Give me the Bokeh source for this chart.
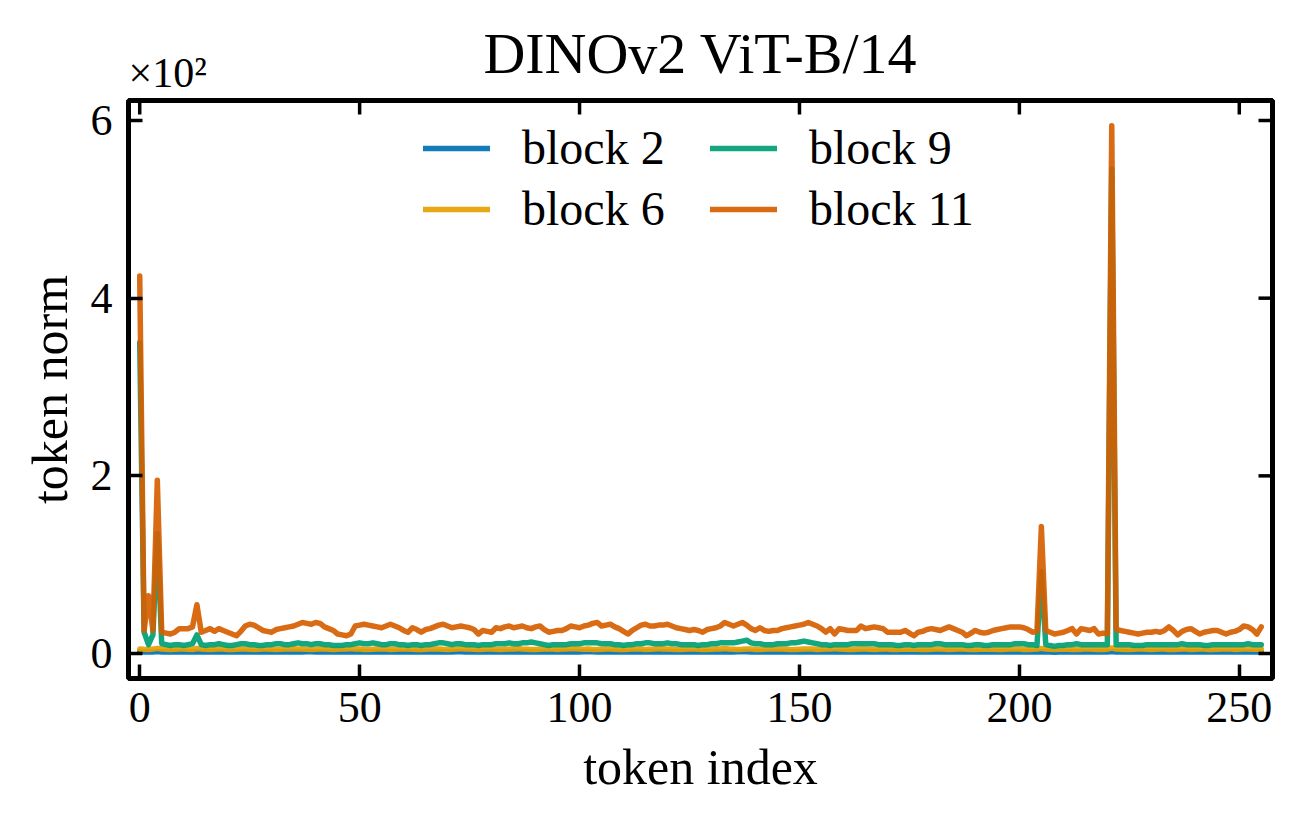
from bokeh.plotting import figure
from bokeh.models import Range1d, FixedTicker, Legend, LegendItem, Title
from bokeh.embed import file_html
from bokeh.resources import INLINE

# ---- data: per-token L2 norm at four depths of the network ----
tokens = list(range(256))

block2 = [
    1.9, 1.7, 1.8, 1.6, 2.2, 1.8, 1.7, 1.6, 1.8, 1.9, 1.7, 1.8, 1.7, 2.0, 1.8, 1.7,
    1.6, 1.8, 1.9, 1.7, 1.6, 1.7, 1.8, 1.8, 1.9, 1.7, 1.6, 1.8, 1.9, 1.8, 1.7, 1.7,
    1.8, 1.9, 1.8, 1.7, 1.6, 1.8, 1.9, 1.9, 1.8, 1.7, 1.7, 1.6, 1.7, 1.8, 1.8, 1.9,
    1.7, 1.8, 1.9, 1.8, 1.7, 1.6, 1.7, 1.8, 1.9, 1.8, 1.7, 1.7, 1.8, 1.9, 1.8, 1.6,
    1.7, 1.8, 1.8, 1.9, 1.7, 1.6, 1.7, 1.8, 1.9, 1.9, 1.8, 1.7, 1.6, 1.7, 1.8, 1.8,
    1.9, 1.7, 1.7, 1.8, 1.8, 1.9, 1.8, 1.7, 1.6, 1.7, 1.8, 1.8, 1.7, 1.6, 1.7, 1.8,
    1.9, 1.8, 1.8, 1.7, 1.8, 1.9, 2.0, 1.9, 1.8, 1.7, 1.7, 1.8, 1.8, 1.7, 1.6, 1.7,
    1.8, 1.9, 1.8, 1.8, 1.7, 1.7, 1.8, 1.9, 1.8, 1.7, 1.6, 1.7, 1.8, 1.8, 1.7, 1.6,
    1.7, 1.8, 1.8, 1.9, 1.8, 1.7, 1.7, 1.8, 1.9, 1.9, 2.0, 1.8, 1.7, 1.7, 1.6, 1.7,
    1.8, 1.8, 1.9, 1.8, 1.7, 1.8, 1.9, 1.8, 1.7, 1.6, 1.7, 1.7, 1.8, 1.8, 1.7, 1.7,
    1.8, 1.8, 1.7, 1.6, 1.7, 1.8, 1.8, 1.7, 1.7, 1.6, 1.6, 1.7, 1.7, 1.8, 1.7, 1.6,
    1.6, 1.7, 1.7, 1.8, 1.7, 1.7, 1.6, 1.7, 1.8, 1.7, 1.7, 1.6, 1.6, 1.7, 1.7, 1.7,
    1.6, 1.6, 1.7, 1.7, 1.8, 1.7, 1.7, 1.8, 1.7, 1.7, 1.6, 1.6, 1.7, 2.1, 1.7, 1.6,
    1.5, 1.6, 1.6, 1.7, 1.7, 1.8, 1.7, 1.7, 1.6, 1.7, 1.7, 1.6, 1.6, 2.3, 1.7, 1.7,
    1.6, 1.6, 1.6, 1.7, 1.6, 1.7, 1.7, 1.6, 1.6, 1.7, 1.7, 1.7, 1.6, 1.7, 1.6, 1.6,
    1.6, 1.7, 1.6, 1.6, 1.7, 1.7, 1.6, 1.6, 1.7, 1.7, 1.6, 1.6, 1.7, 1.7, 1.6, 1.7,
]

block6 = [
    5.2, 4.8, 4.6, 5.0, 5.8, 5.1, 4.9, 4.5, 4.7, 5.0, 5.1, 4.9, 4.6, 5.7, 5.0, 4.8,
    4.5, 4.9, 5.1, 5.0, 4.6, 4.5, 4.8, 5.1, 5.2, 4.7, 4.5, 4.9, 5.0, 5.1, 4.9, 4.6,
    4.7, 5.0, 5.2, 5.5, 5.2, 5.0, 4.9, 4.6, 4.8, 5.1, 5.0, 4.7, 4.5, 4.8, 5.0, 5.1,
    5.6, 5.2, 5.0, 4.6, 4.5, 4.9, 5.1, 5.2, 5.0, 4.6, 4.9, 5.1, 5.5, 5.0, 4.9, 4.6,
    4.5, 4.9, 5.0, 5.2, 5.0, 4.7, 4.6, 4.9, 5.1, 5.6, 5.2, 5.0, 4.9, 4.6, 4.8, 5.0,
    5.1, 4.7, 4.5, 4.9, 5.1, 5.2, 5.7, 5.1, 4.9, 4.6, 4.5, 4.9, 5.0, 5.1, 5.0, 4.6,
    5.0, 5.2, 5.6, 5.5, 5.1, 4.9, 5.0, 4.6, 4.5, 4.9, 5.1, 5.0, 4.9, 4.6, 4.5, 4.9,
    5.0, 5.1, 5.0, 4.6, 4.9, 5.2, 5.7, 5.2, 5.0, 4.9, 4.6, 4.5, 4.9, 5.1, 5.0, 4.9,
    4.5, 4.6, 4.9, 5.1, 5.2, 5.6, 5.1, 4.9, 4.6, 4.8, 5.2, 5.0, 4.6, 4.5, 4.9, 5.0,
    5.0, 5.5, 5.2, 4.9, 4.6, 4.5, 4.9, 5.0, 5.1, 5.0, 4.6, 4.9, 5.1, 5.0, 5.6, 5.1,
    4.9, 4.6, 4.5, 4.8, 5.0, 5.1, 4.9, 4.6, 4.9, 5.0, 5.1, 4.6, 4.5, 4.8, 5.0, 4.9,
    5.0, 4.9, 4.6, 4.5, 4.9, 5.0, 5.1, 4.9, 4.6, 4.8, 5.0, 5.1, 4.9, 4.6, 4.5, 4.9,
    4.9, 5.0, 4.9, 4.6, 4.5, 4.8, 5.0, 5.1, 5.0, 4.6, 4.5, 4.9, 5.0, 5.8, 5.0, 4.8,
    4.5, 4.8, 5.0, 4.9, 4.6, 4.5, 4.9, 5.5, 5.0, 4.9, 4.6, 4.5, 4.9, 6.2, 5.0, 4.9,
    4.6, 4.5, 4.8, 5.0, 5.0, 4.9, 4.6, 4.9, 5.0, 5.1, 4.6, 4.5, 4.9, 5.0, 5.0, 4.6,
    4.9, 5.0, 5.0, 4.6, 4.5, 4.9, 5.0, 5.1, 5.0, 4.6, 4.9, 5.0, 5.1, 4.7, 4.9, 5.0,
]

block9 = [
    350, 24, 10, 21, 135, 11, 10, 9, 10, 10, 9, 10, 11, 21, 10, 9,
    10, 10, 11, 10, 9, 9, 10, 11, 11, 10, 10, 9, 9, 10, 10, 11,
    11, 10, 10, 11, 12, 11, 11, 10, 11, 11, 10, 10, 9, 9, 9, 10,
    10, 11, 12, 11, 11, 12, 11, 10, 10, 11, 11, 10, 10, 9, 10, 10,
    9, 10, 10, 11, 12, 12, 11, 10, 11, 11, 10, 10, 10, 9, 10, 10,
    10, 11, 11, 11, 12, 11, 11, 12, 12, 13, 12, 11, 10, 9, 10, 10,
    10, 10, 11, 11, 11, 12, 12, 12, 12, 11, 11, 11, 10, 10, 9, 10,
    10, 11, 11, 12, 12, 11, 11, 11, 12, 11, 11, 10, 10, 10, 10, 9,
    10, 10, 11, 11, 12, 12, 12, 12, 13, 14, 15, 12, 11, 11, 10, 10,
    10, 11, 11, 11, 12, 12, 13, 14, 13, 12, 11, 10, 10, 9, 10, 10,
    10, 10, 11, 11, 11, 11, 11, 11, 10, 10, 10, 10, 9, 9, 10, 10,
    9, 10, 10, 10, 10, 11, 11, 10, 10, 10, 10, 10, 9, 9, 10, 10,
    9, 9, 10, 10, 10, 10, 10, 11, 11, 11, 10, 10, 9, 92, 10, 9,
    8, 9, 9, 10, 10, 11, 10, 10, 10, 10, 10, 10, 10, 545, 10, 10,
    10, 10, 9, 9, 9, 10, 10, 10, 10, 10, 10, 10, 10, 11, 10, 10,
    10, 10, 9, 9, 10, 10, 10, 10, 10, 10, 10, 10, 11, 10, 10, 10,
]

block11 = [
    425, 26, 65, 26, 195, 24, 23, 22, 24, 28, 28, 28, 30, 55, 24, 26,
    28, 25, 28, 26, 24, 22, 20, 25, 31, 33, 32, 29, 26, 25, 24, 27,
    28, 29, 30, 31, 33, 35, 34, 33, 35, 34, 30, 28, 26, 22, 21, 20,
    22, 31, 32, 33, 32, 31, 30, 29, 31, 33, 31, 29, 26, 24, 29, 27,
    24, 27, 28, 30, 32, 33, 31, 29, 30, 31, 30, 29, 27, 22, 26, 25,
    24, 29, 28, 30, 31, 29, 30, 31, 29, 28, 30, 31, 27, 24, 25, 26,
    26, 28, 31, 30, 29, 31, 32, 34, 35, 31, 32, 33, 30, 28, 25, 22,
    26, 29, 32, 33, 31, 31, 32, 32, 33, 31, 29, 28, 27, 26, 27, 26,
    24, 27, 28, 29, 31, 35, 33, 31, 33, 35, 32, 28, 26, 29, 26, 25,
    26, 26, 28, 29, 30, 31, 32, 33, 35, 33, 31, 28, 24, 28, 22, 28,
    27, 26, 26, 26, 31, 28, 29, 30, 29, 28, 24, 24, 24, 24, 26, 23,
    20, 24, 25, 27, 28, 27, 26, 28, 30, 28, 26, 24, 20, 23, 26, 24,
    23, 24, 26, 27, 28, 29, 30, 30, 30, 29, 27, 24, 25, 143, 26, 24,
    22, 23, 24, 26, 28, 22, 28, 27, 26, 28, 22, 23, 22, 594, 27, 26,
    25, 24, 23, 22, 23, 24, 24, 25, 24, 26, 30, 26, 21, 25, 27, 28,
    25, 22, 24, 25, 26, 26, 24, 22, 24, 25, 27, 31, 30, 27, 22, 30,
]

series_names = ["block 2", "block 6", "block 9", "block 11"]
series_colors = ["#0072B2", "#E69F00", "#009E73", "#D55E00"]

x_ticks = [0, 50, 100, 150, 200, 250]
y_ticks = [0, 200, 400, 600]
y_tick_labels = ["0", "2", "4", "6"]

FONT = "Liberation Serif"

X0, X1 = -2.55, 257.55
Y0, Y1 = -28.1, 622.5
FRAME_W, FRAME_H = 1144, 578
TICK_LEN = 14  # px, inward ticks
TICK_W = 3.5

p = figure(
    width=1302, height=825,
    output_backend="svg", toolbar_location=None,
    x_range=Range1d(X0, X1), y_range=Range1d(Y0, Y1),
    min_border_left=128, min_border_right=30,
    min_border_top=100, min_border_bottom=147,
)
p.title = None
p.background_fill_color = "white"
p.border_fill_color = "white"
p.xgrid.grid_line_color = None
p.ygrid.grid_line_color = None
p.outline_line_color = "black"
p.outline_line_width = 5
p.outline_line_alpha = 1.0

renderers = []
for ys, name, color in zip([block2, block6, block9, block11], series_names, series_colors):
    r = p.line(tokens, ys, line_color=color, line_width=5.5, line_alpha=0.92,
               line_join="round", line_cap="round")
    renderers.append(r)


def style_axis(ax):
    ax.axis_line_color = None
    ax.major_tick_in = TICK_LEN
    ax.major_tick_out = 0
    ax.major_tick_line_width = TICK_W
    ax.major_tick_line_color = "black"
    ax.minor_tick_line_color = None
    ax.major_label_text_font = FONT
    ax.major_label_text_color = "black"
    ax.major_label_text_font_size = "44px"
    ax.axis_label_text_font = FONT
    ax.axis_label_text_font_size = "50px"
    ax.axis_label_text_font_style = "normal"
    ax.axis_label_text_color = "black"


xax = p.xaxis[0]
xax.ticker = FixedTicker(ticks=x_ticks)
style_axis(xax)
xax.major_label_standoff = 14
xax.axis_label = "token index"
xax.axis_label_standoff = 14

yax = p.yaxis[0]
yax.ticker = FixedTicker(ticks=y_ticks)
yax.major_label_overrides = {t: s for t, s in zip(y_ticks, y_tick_labels)}
style_axis(yax)
yax.major_label_standoff = 16
yax.axis_label = "token norm"
yax.axis_label_standoff = 10

# mirrored inward tick marks along the top and right edges
dy = TICK_LEN * (Y1 - Y0) / FRAME_H
dx = TICK_LEN * (X1 - X0) / FRAME_W
p.segment(x0=x_ticks, y0=[Y1] * len(x_ticks), x1=x_ticks, y1=[Y1 - dy] * len(x_ticks),
          line_color="black", line_width=TICK_W)
p.segment(x0=[X1] * len(y_ticks), y0=y_ticks, x1=[X1 - dx] * len(y_ticks), y1=y_ticks,
          line_color="black", line_width=TICK_W)

# axis multiplier (closest to the frame, left aligned) and the plot title above it
multiplier = Title(text="×10²", align="left", offset=0, standoff=10,
                   text_font=FONT, text_font_size="42px", text_font_style="normal",
                   text_color="black")
p.add_layout(multiplier, "above")
main_title = Title(text="DINOv2 ViT-B/14", align="center", standoff=-86,
                   text_font=FONT, text_font_size="58px", text_font_style="normal",
                   text_color="black")
p.add_layout(main_title, "above")


def make_legend(items, x_px):
    lg = Legend(items=items, location=(x_px, 442))
    lg.background_fill_alpha = 0
    lg.border_line_color = None
    lg.padding = 0
    lg.margin = 0
    lg.spacing = 6
    lg.glyph_width = 67
    lg.glyph_height = 46
    lg.label_height = 46
    lg.label_standoff = 32
    lg.label_text_font = FONT
    lg.label_text_font_size = "48px"
    lg.label_text_color = "black"
    return lg


leg_a = make_legend([LegendItem(label=series_names[0], renderers=[renderers[0]]),
                     LegendItem(label=series_names[1], renderers=[renderers[1]])], 295)
leg_b = make_legend([LegendItem(label=series_names[2], renderers=[renderers[2]]),
                     LegendItem(label=series_names[3], renderers=[renderers[3]])], 582)
p.add_layout(leg_a)
p.add_layout(leg_b)

open("out.html", "w").write(file_html(p, INLINE))
